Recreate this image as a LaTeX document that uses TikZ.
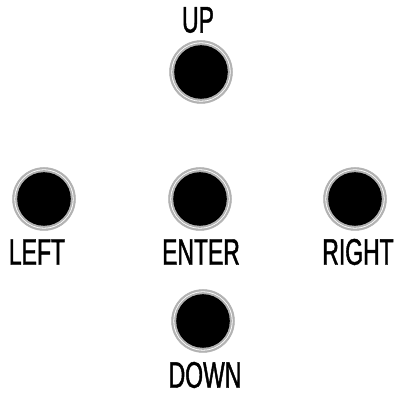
\documentclass[tikz,border=0pt]{standalone}
\usepackage{fontspec}
\setmainfont[FakeStretch=0.62,FakeBold=1.2]{Liberation Sans}
\begin{document}
\begin{tikzpicture}[x=1pt,y=-1pt]
\tikzset{
  btn/.style={circle, minimum size=63pt, inner sep=0pt, fill=gray!60, draw=gray!60, line width=0.5pt,
    path picture={
      \fill[white] (path picture bounding box.center) circle (29.6pt);
      \fill[gray!60] (path picture bounding box.center) circle (28.8pt);
      \fill[black] (path picture bounding box.center) circle (26.8pt);
    }},
  lbl/.style={font=\fontsize{37}{37}\selectfont, inner sep=0pt, text=black}
}
\useasboundingbox (0,0) rectangle (397,395);
\node[btn] (up) at (201,72) {};
\node[btn] (left) at (44,199) {};
\node[btn] (enter) at (200,199) {};
\node[btn] (right) at (355,199) {};
\node[btn] (down) at (203,321) {};
\node[lbl] (tup) at (198,20) {UP};
\node[lbl] (tleft) at (37,252) {LEFT};
\node[lbl] (tenter) at (201,252) {ENTER};
\node[lbl] (tright) at (358,252) {RIGHT};
\node[lbl] (tdown) at (205,375) {DOWN};
\end{tikzpicture}
\end{document}
